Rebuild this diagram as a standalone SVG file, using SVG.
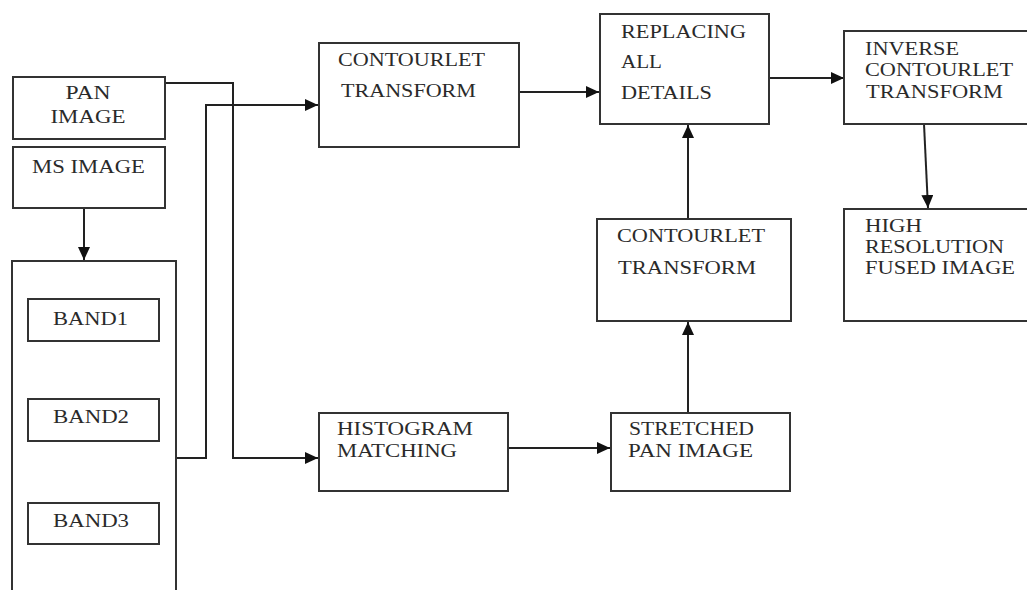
<svg xmlns="http://www.w3.org/2000/svg" width="1027" height="590" viewBox="0 0 1027 590">
<style>
.box{fill:#fff;stroke:#333;stroke-width:2}
.t{font-family:'Liberation Serif','Times New Roman','DejaVu Serif',serif;font-size:19px;fill:#2a2a2a}
.c{text-anchor:middle}
.ln{fill:none;stroke:#222;stroke-width:2}
</style>
<defs>
<marker id="ah" markerUnits="userSpaceOnUse" markerWidth="14" markerHeight="12" refX="13" refY="6" orient="auto">
<path d="M0,0 L13,6 L0,12 Z" fill="#111"/>
</marker>
</defs>
<rect width="1027" height="590" fill="#fff"/>
<g id="connectors">
<path class="ln" d="M84,208 V260" marker-end="url(#ah)"/>
<path class="ln" d="M176,458 H206 V105 H318" marker-end="url(#ah)"/>
<path class="ln" d="M165,83 H233 V458 H318" marker-end="url(#ah)"/>
<path class="ln" d="M519,92 H599" marker-end="url(#ah)"/>
<path class="ln" d="M769,78 H844" marker-end="url(#ah)"/>
<path class="ln" d="M924,124 L928,208" marker-end="url(#ah)"/>
<path class="ln" d="M688,219 V125" marker-end="url(#ah)"/>
<path class="ln" d="M688,413 V322" marker-end="url(#ah)"/>
<path class="ln" d="M508,448 H610" marker-end="url(#ah)"/>
</g>
<g font-family="Liberation Serif, serif">
<g id="pan">
<rect class="box" x="13" y="77" width="152" height="62"/>
<text class="t c" x="88" y="99" textLength="45" lengthAdjust="spacingAndGlyphs">PAN</text>
<text class="t c" x="88" y="123" textLength="75" lengthAdjust="spacingAndGlyphs">IMAGE</text>
</g>
<g id="ms">
<rect class="box" x="13" y="147" width="152" height="61"/>
<text class="t" x="32" y="173" textLength="113" lengthAdjust="spacingAndGlyphs">MS IMAGE</text>
</g>
<g id="bands">
<rect class="box" x="12" y="261" width="164" height="345"/>
</g>
<g id="band1">
<rect class="box" x="28" y="299" width="131" height="42"/>
<text class="t" x="53" y="325" textLength="75" lengthAdjust="spacingAndGlyphs">BAND1</text>
</g>
<g id="band2">
<rect class="box" x="28" y="399" width="131" height="42"/>
<text class="t" x="53" y="423" textLength="76" lengthAdjust="spacingAndGlyphs">BAND2</text>
</g>
<g id="band3">
<rect class="box" x="28" y="503" width="131" height="41"/>
<text class="t" x="53" y="527" textLength="76" lengthAdjust="spacingAndGlyphs">BAND3</text>
</g>
<g id="ct1">
<rect class="box" x="319" y="43" width="200" height="104"/>
<text class="t" x="338" y="66" textLength="147" lengthAdjust="spacingAndGlyphs">CONTOURLET</text>
<text class="t" x="341" y="97" textLength="135" lengthAdjust="spacingAndGlyphs">TRANSFORM</text>
</g>
<g id="replacing">
<rect class="box" x="600" y="14" width="169" height="110"/>
<text class="t" x="621" y="38" textLength="125" lengthAdjust="spacingAndGlyphs">REPLACING</text>
<text class="t" x="621" y="68" textLength="41" lengthAdjust="spacingAndGlyphs">ALL</text>
<text class="t" x="621" y="99" textLength="91" lengthAdjust="spacingAndGlyphs">DETAILS</text>
</g>
<g id="inverse">
<rect class="box" x="844" y="31" width="190" height="93"/>
<text class="t" x="865" y="55" textLength="94" lengthAdjust="spacingAndGlyphs">INVERSE</text>
<text class="t" x="865" y="76" textLength="148" lengthAdjust="spacingAndGlyphs">CONTOURLET</text>
<text class="t" x="866" y="98" textLength="137" lengthAdjust="spacingAndGlyphs">TRANSFORM</text>
</g>
<g id="fused">
<rect class="box" x="844" y="209" width="190" height="112"/>
<text class="t" x="865" y="232" textLength="57" lengthAdjust="spacingAndGlyphs">HIGH</text>
<text class="t" x="865" y="253" textLength="139" lengthAdjust="spacingAndGlyphs">RESOLUTION</text>
<text class="t" x="865" y="274" textLength="150" lengthAdjust="spacingAndGlyphs">FUSED IMAGE</text>
</g>
<g id="ct2">
<rect class="box" x="597" y="219" width="194" height="102"/>
<text class="t" x="617" y="242" textLength="148" lengthAdjust="spacingAndGlyphs">CONTOURLET</text>
<text class="t" x="618" y="274" textLength="138" lengthAdjust="spacingAndGlyphs">TRANSFORM</text>
</g>
<g id="histogram">
<rect class="box" x="319" y="413" width="189" height="78"/>
<text class="t" x="337" y="435" textLength="136" lengthAdjust="spacingAndGlyphs">HISTOGRAM</text>
<text class="t" x="337" y="457" textLength="120" lengthAdjust="spacingAndGlyphs">MATCHING</text>
</g>
<g id="stretched">
<rect class="box" x="611" y="413" width="179" height="78"/>
<text class="t" x="629" y="435" textLength="125" lengthAdjust="spacingAndGlyphs">STRETCHED</text>
<text class="t" x="628" y="457" textLength="125" lengthAdjust="spacingAndGlyphs">PAN IMAGE</text>
</g>
</g>
</svg>
